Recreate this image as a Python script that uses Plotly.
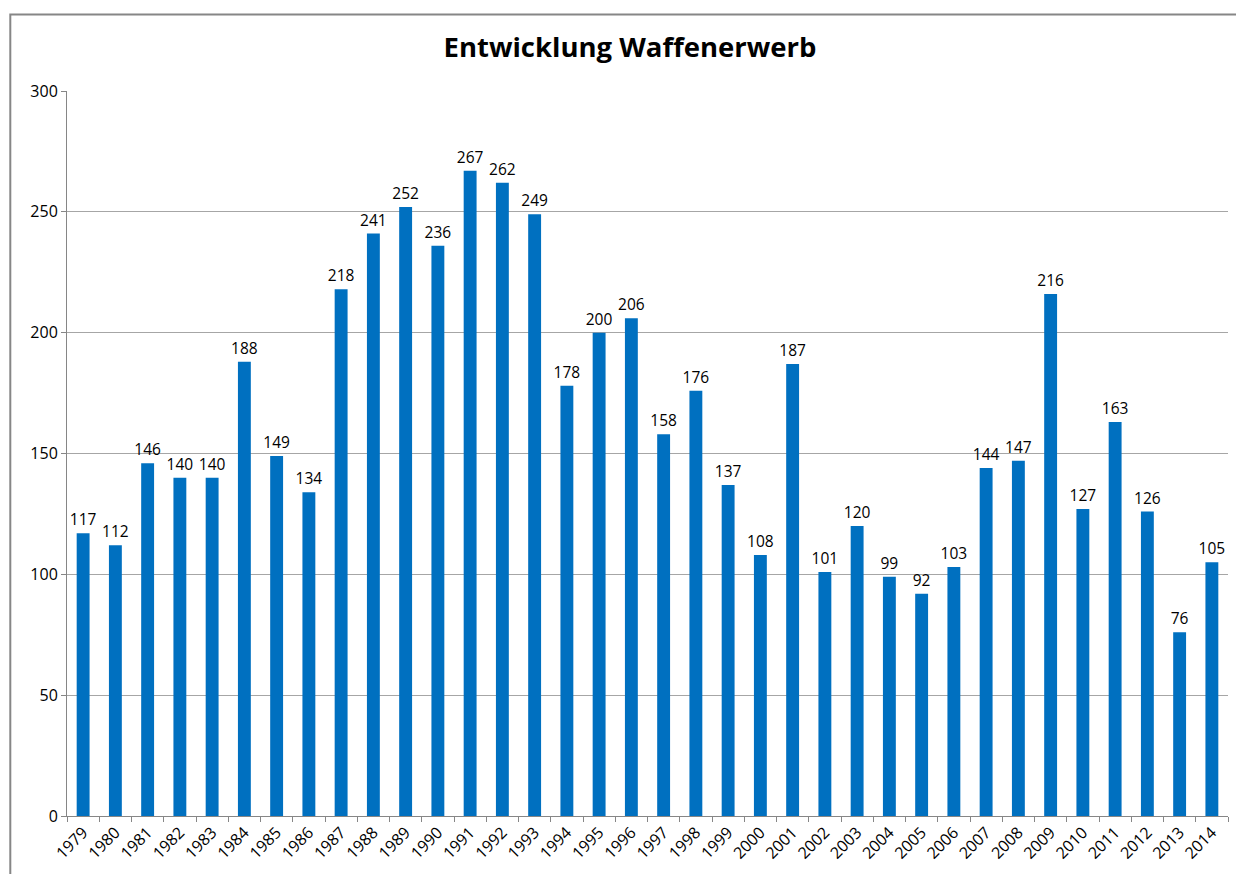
import plotly.graph_objects as go

years = [str(y) for y in range(1979, 2015)]
values = [117, 112, 146, 140, 140, 188, 149, 134, 218, 241, 252, 236, 267, 262, 249,
          178, 200, 206, 158, 176, 137, 108, 187, 101, 120, 99, 92, 103, 144, 147,
          216, 127, 163, 126, 76, 105]
y_ticks = [0, 50, 100, 150, 200, 250, 300]
title_text = "Entwicklung Waffenerwerb"

W, H = 1236, 874
L, R, T, B = 66.7, 8.3, 90.5, 58
pw, ph = W - L - R, H - T - B

fig = go.Figure(go.Bar(
    x=years, y=values, marker_color="#0070C0", marker_line_width=0,
    text=[str(v) for v in values], textposition="outside", cliponaxis=False,
    constraintext="none",
    textfont=dict(size=15.5, color="#000", family="Open Sans"),
))

fig.update_layout(
    width=W, height=H,
    margin=dict(l=L, r=R, t=T, b=B, autoexpand=False),
    paper_bgcolor="white", plot_bgcolor="white",
    bargap=0.6,
    showlegend=False,
    title=dict(text="<b>" + title_text + "</b>", x=630 / W, xanchor="center",
               y=1 - 47 / H, yanchor="middle",
               font=dict(size=27.5, color="#000", family="Open Sans")),
    font=dict(family="Open Sans", color="#000"),
    xaxis=dict(type="category", showline=True, linecolor="#868686", linewidth=1,
               ticks="outside", ticklen=5, tickcolor="#868686", tickson="boundaries",
               tickangle=-45, tickfont=dict(size=16), showgrid=False, automargin=False),
    yaxis=dict(range=[0, 300], tickvals=y_ticks, showline=True, linecolor="#868686",
               linewidth=1, ticks="outside", ticklen=5, tickcolor="#868686",
               gridcolor="#a6a6a6", gridwidth=1, tickfont=dict(size=16),
               zeroline=False, automargin=False),
)

# outer chart frame (extends beyond the visible image at right and bottom)
fig.add_shape(type="rect", xref="paper", yref="paper",
              x0=(10 - L) / pw, x1=(W + 20 - L) / pw,
              y0=(H - B - (H + 20)) / ph, y1=(H - B - 14) / ph,
              line=dict(color="#868686", width=2), fillcolor="rgba(0,0,0,0)", layer="below")

fig.write_html(
    "out.html",
    config={"displayModeBar": False},
    post_script="document.body.style.margin='0';document.body.style.overflow='hidden';",
)
